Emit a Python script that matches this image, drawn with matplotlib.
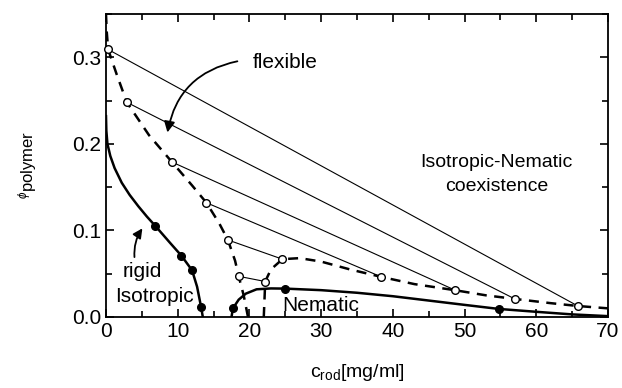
import numpy as np
import matplotlib.pyplot as plt

plt.rcParams['font.family'] = ['Liberation Sans', 'DejaVu Sans']
plt.rcParams['mathtext.fontset'] = 'custom'
plt.rcParams['mathtext.rm'] = 'Liberation Sans'
plt.rcParams['mathtext.it'] = 'Liberation Sans:italic'

# tie lines: isotropic end (left) and nematic end (right), open circles
tie_iso_c = [0.3, 2.9, 9.2, 14.0, 17.0, 18.5]
tie_iso_phi = [0.309, 0.248, 0.179, 0.132, 0.089, 0.047]
tie_nem_c = [65.8, 57.0, 48.7, 38.4, 24.6, 22.2]
tie_nem_phi = [0.0127, 0.0209, 0.0309, 0.0463, 0.0668, 0.041]

# flexible boundary (dashed)
flex_left_c = [0.0, 0.1, 0.3, 1.5, 2.9, 6.0, 9.2, 12.0, 14.0, 15.8, 17.0, 18.0, 18.5, 19.2, 19.8]
flex_left_phi = [0.35, 0.33, 0.309, 0.28, 0.248, 0.21, 0.179, 0.152, 0.132, 0.108, 0.089, 0.065, 0.047, 0.025, 0.0]
flex_right_c = [22.0, 22.1, 22.2, 23.0, 24.6, 27.0, 30.0, 34.0, 38.4, 43.0, 48.7, 53.0, 57.0, 62.0, 65.8, 70.0]
flex_right_phi = [0.0, 0.02, 0.041, 0.055, 0.0668, 0.068, 0.064, 0.055, 0.0463, 0.038, 0.0309, 0.025, 0.0209, 0.016, 0.0127, 0.01]

# rigid boundary (solid)
rigid_left_c = [0.0, 0.05, 0.2, 0.6, 1.2, 2.2, 3.3, 4.5, 5.7, 6.9, 9.0, 10.5, 12.0, 12.7, 13.25, 13.5]
rigid_left_phi = [0.232, 0.215, 0.2, 0.186, 0.172, 0.155, 0.141, 0.128, 0.116, 0.105, 0.085, 0.071, 0.054, 0.035, 0.012, 0.0]
rigid_right_c = [17.5, 17.7, 18.5, 19.5, 21.0, 23.0, 25.0, 30.0, 35.0, 40.0, 45.0, 50.0, 54.8, 60.0, 65.0, 70.0]
rigid_right_phi = [0.0, 0.010, 0.02, 0.027, 0.032, 0.033, 0.0328, 0.031, 0.028, 0.024, 0.019, 0.014, 0.0093, 0.006, 0.003, 0.001]

# measured rigid points (filled circles)
rigid_pts_c = [6.9, 10.5, 12.0, 13.25, 17.7, 25.0, 54.8]
rigid_pts_phi = [0.105, 0.071, 0.054, 0.012, 0.010, 0.0328, 0.0093]

fig = plt.figure(figsize=(6.22, 3.88), dpi=100)
ax = fig.add_axes([106/622, 1-317/388, (608-106)/622, (317-14)/388])

for i in range(len(tie_iso_c)):
    ax.plot([tie_iso_c[i], tie_nem_c[i]], [tie_iso_phi[i], tie_nem_phi[i]], color='black', lw=0.8)

dash = (0, (4, 3))
ax.plot(flex_left_c, flex_left_phi, color='black', lw=1.8, linestyle=dash)
ax.plot(flex_right_c, flex_right_phi, color='black', lw=1.8, linestyle=dash)
ax.plot(rigid_left_c, rigid_left_phi, color='black', lw=1.8)
ax.plot(rigid_right_c, rigid_right_phi, color='black', lw=1.8)

ax.plot(tie_iso_c + tie_nem_c, tie_iso_phi + tie_nem_phi, 'o', mfc='white', mec='black',
        ms=5.5, mew=1.0, zorder=5, clip_on=False)
ax.plot(rigid_pts_c, rigid_pts_phi, 'o', color='black', ms=5.5, zorder=5)

ax.set_xlim(0, 70)
ax.set_ylim(0, 0.35)
ax.set_xticks(np.arange(0, 71, 10))
ax.set_xticks(np.arange(0, 71, 5), minor=True)
ax.set_yticks([0.0, 0.1, 0.2, 0.3])
ax.set_yticklabels(['0.0', '0.1', '0.2', '0.3'])
ax.set_yticks(np.arange(0, 0.351, 0.05), minor=True)
ax.tick_params(which='both', direction='in', top=True, right=True, labelsize=15, width=1.2)
ax.tick_params(which='major', length=6)
ax.tick_params(which='minor', length=4)
for s in ax.spines.values():
    s.set_linewidth(1.3)

ax.set_xlabel(r'c$_{\rm rod}$[mg/ml]', fontsize=14, labelpad=15)
ax.set_ylabel(r'${}^{\phi}$polymer', fontsize=12, labelpad=24)

ax.text(20.4, 0.294, 'flexible', fontsize=15, va='center', ha='left')
ax.annotate('', xy=(8.5, 0.21), xytext=(18.7, 0.296),
            arrowprops=dict(arrowstyle='-|>', color='black', lw=1.3,
                            connectionstyle='arc3,rad=0.35', mutation_scale=16))
ax.text(54.5, 0.178, 'Isotropic-Nematic', fontsize=14, ha='center', va='center')
ax.text(54.5, 0.151, 'coexistence', fontsize=14, ha='center', va='center')
ax.text(5.0, 0.052, 'rigid', fontsize=15, ha='center', va='center')
ax.text(6.8, 0.024, 'Isotropic', fontsize=15, ha='center', va='center')
ax.annotate('', xy=(5.3, 0.105), xytext=(4.0, 0.066),
            arrowprops=dict(arrowstyle='-|>', color='black', lw=1.3,
                            connectionstyle='arc3,rad=-0.2', mutation_scale=14))
ax.text(30.0, 0.013, 'Nematic', fontsize=15, ha='center', va='center')

plt.savefig('out.png')
